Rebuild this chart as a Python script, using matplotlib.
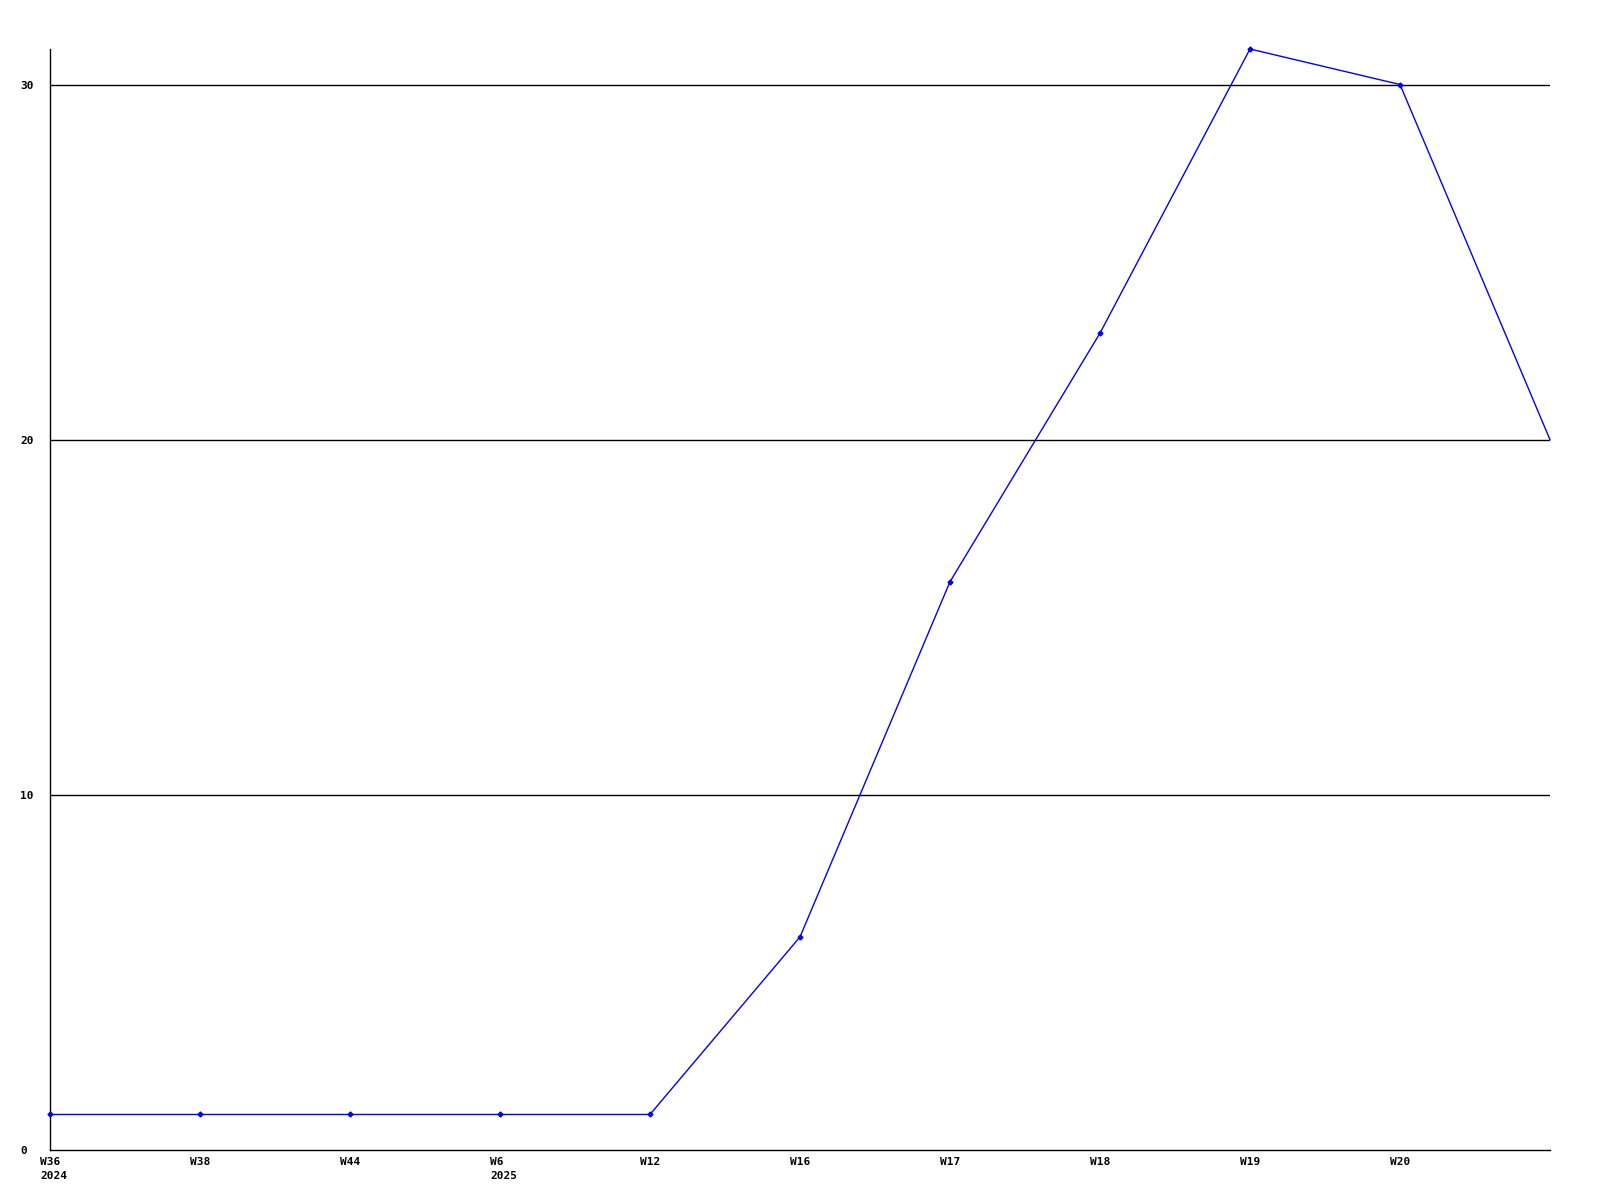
import matplotlib
matplotlib.use("Agg")
import matplotlib.pyplot as plt
import matplotlib.transforms as mtransforms

weeks = ["W36", "W38", "W44", "W6", "W12", "W16", "W17", "W18", "W19", "W20", ""]
years = ["2024", "", "", "2025", "", "", "", "", "", "", ""]
values = [1, 1, 1, 1, 1, 6, 16, 23, 31, 30, 20]
y_ticks = [0, 10, 20, 30]

W, H = 1600, 1200
fig = plt.figure(figsize=(16, 12), dpi=100)
ax = fig.add_axes([50 / W, (H - 1150) / H, 1500 / W, (1150 - 49) / H])

x = list(range(len(values)))
ax.plot(x, values, color="#0000ff", linewidth=1.0, marker="D", markersize=2.5,
        markevery=list(range(len(values) - 1)), zorder=3, clip_on=False)

ax.set_xlim(0, len(values) - 1)
ax.set_ylim(0, max(values))

for t in y_ticks[1:]:
    ax.axhline(t, color="black", linewidth=1.0, zorder=1)

for s in ["top", "right"]:
    ax.spines[s].set_visible(False)
for s in ["left", "bottom"]:
    ax.spines[s].set_color("black")
    ax.spines[s].set_linewidth(1.0)

font = dict(family="DejaVu Sans Mono", weight="bold", size=8)

ax.set_yticks(y_ticks)
ax.set_yticklabels([str(t) for t in y_ticks], **font)
ax.tick_params(axis="y", length=0, pad=30 * 72 / 100)
for lbl in ax.get_yticklabels():
    lbl.set_horizontalalignment("left")

ax.set_xticks(x)
labels = [w + ("\n" + y if y else "") for w, y in zip(weeks, years)]
ax.set_xticklabels(labels, **font, linespacing=1.55)
ax.tick_params(axis="x", length=0, pad=5)
offset = mtransforms.ScaledTranslation(-10 / 100, 0, fig.dpi_scale_trans)
for lbl in ax.get_xticklabels():
    lbl.set_horizontalalignment("left")
    lbl.set_verticalalignment("top")
    lbl.set_transform(lbl.get_transform() + offset)

fig.savefig("out.png", dpi=100, facecolor="white")
